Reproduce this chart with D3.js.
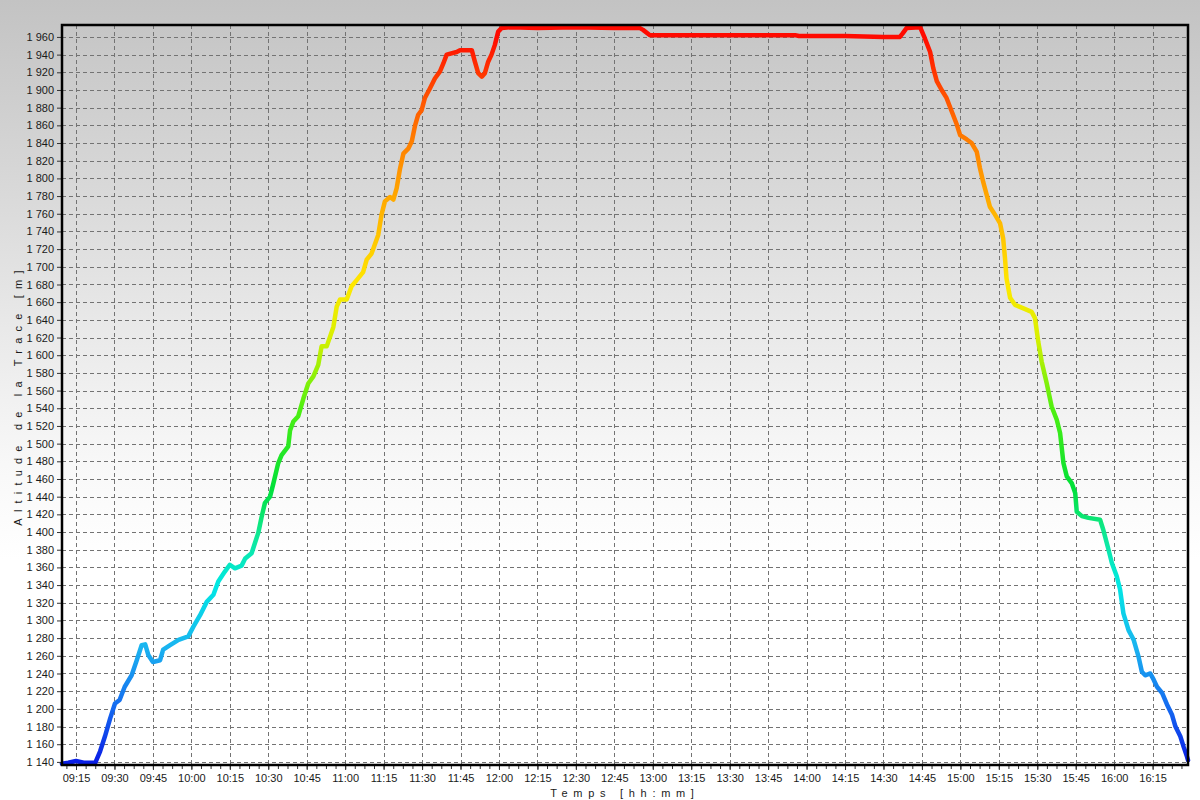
<!DOCTYPE html>
<html>
<head>
<meta charset="utf-8">
<script src="https://cdn.jsdelivr.net/npm/d3@7"></script>
<style>
  body { margin: 0; background: #fff; }
  svg { display: block; font-family: "Liberation Sans", Arial, sans-serif; }
</style>
</head>
<body>
<div id="chart"></div>
<script>
// altitude profile
let times = ["09:09:30", "09:12:00", "09:15:00", "09:18:00", "09:22:30", "09:24:24", "09:26:18", "09:28:18",
    "09:30:12", "09:32:00", "09:34:00", "09:36:42", "09:38:42", "09:40:36", "09:42:00", "09:43:12", "09:45:00",
    "09:47:48", "09:49:00", "09:51:42", "09:55:00", "09:58:48", "10:00:48", "10:03:24", "10:06:00", "10:08:36",
    "10:10:30", "10:13:00", "10:15:00", "10:17:00", "10:19:36", "10:21:00", "10:23:30", "10:26:06", "10:27:24",
    "10:28:42", "10:30:42", "10:32:00", "10:33:54", "10:35:12", "10:37:48", "10:38:30", "10:39:48", "10:41:42",
    "10:43:42", "10:45:36", "10:47:36", "10:49:30", "10:50:48", "10:52:48", "10:55:24", "10:56:42", "10:58:00",
    "11:00:36", "11:02:30", "11:04:30", "11:07:00", "11:08:24", "11:10:18", "11:12:54", "11:14:12", "11:15:30",
    "11:17:30", "11:18:48", "11:20:06", "11:21:24", "11:22:42", "11:24:42", "11:26:00", "11:27:12", "11:28:30",
    "11:29:48", "11:31:06", "11:33:06", "11:35:00", "11:37:00", "11:38:18", "11:39:36", "11:43:30", "11:44:48",
    "11:49:24", "11:50:36", "11:51:54", "11:53:18", "11:54:30", "11:55:48", "11:57:06", "11:58:24", "11:59:42",
    "12:01:00", "12:05:00", "12:15:00", "12:30:00", "12:45:00", "12:55:00", "12:56:12", "12:58:54", "13:15:00",
    "13:45:00", "13:55:30", "13:57:00", "14:15:00", "14:30:00", "14:36:24", "14:37:30", "14:39:00", "14:44:18",
    "14:46:12", "14:48:12", "14:49:24", "14:50:48", "14:52:42", "14:54:36", "14:56:36", "14:58:36", "14:59:54",
    "15:02:30", "15:04:24", "15:06:24", "15:07:36", "15:08:54", "15:10:18", "15:11:30", "15:13:30", "15:15:30",
    "15:16:42", "15:17:24", "15:18:00", "15:19:24", "15:21:18", "15:24:36", "15:27:48", "15:29:06", "15:30:24",
    "15:31:42", "15:33:42", "15:35:36", "15:37:36", "15:38:54", "15:40:12", "15:41:30", "15:43:30", "15:44:48",
    "15:45:24", "15:47:24", "15:50:00", "15:54:30", "15:55:48", "15:57:48", "15:59:06", "16:01:00", "16:02:18",
    "16:03:36", "16:05:36", "16:07:36", "16:09:30", "16:10:48", "16:12:06", "16:14:06", "16:15:24", "16:16:42",
    "16:18:42", "16:20:36", "16:22:36", "16:23:54", "16:25:48", "16:27:06", "16:28:24", "16:28:48"];

let altitudes = [1138, 1139, 1141, 1139, 1139, 1152, 1169, 1189,
    1206, 1210, 1225, 1238, 1255, 1272, 1273, 1261, 1253,
    1255, 1267, 1272, 1278, 1282, 1293, 1306, 1321, 1329,
    1344, 1355, 1363, 1359, 1362, 1370, 1376, 1399, 1417,
    1433, 1440, 1455, 1478, 1487, 1497, 1515, 1525, 1531,
    1551, 1568, 1576, 1589, 1610, 1610, 1632, 1655, 1663,
    1663, 1678, 1685, 1694, 1708, 1715, 1736, 1759, 1774,
    1779, 1776, 1789, 1811, 1828, 1834, 1842, 1859, 1872,
    1877, 1891, 1902, 1913, 1921, 1930, 1940, 1943, 1945,
    1945, 1932, 1919, 1915, 1919, 1932, 1940, 1951, 1966,
    1970, 1971, 1970, 1971, 1970, 1970, 1968, 1962, 1962,
    1962, 1962, 1961, 1961, 1960, 1960, 1964, 1970, 1971,
    1958, 1943, 1925, 1910, 1900, 1891, 1876, 1861, 1849,
    1844, 1840, 1830, 1812, 1796, 1781, 1768, 1759, 1749,
    1732, 1710, 1687, 1665, 1657, 1653, 1649, 1642, 1615,
    1593, 1568, 1542, 1527, 1512, 1478, 1463, 1455, 1444,
    1423, 1418, 1416, 1414, 1402, 1380, 1365, 1350, 1335,
    1308, 1289, 1278, 1259, 1242, 1238, 1240, 1233, 1225,
    1218, 1205, 1193, 1180, 1169, 1157, 1146, 1142];

let timeRange = ["09:09:32", "16:28:48"];
let altRange = [1136.5, 1973.5];
let yTicks = d3.range(1140, 1961, 20);

// jet-like colours along the altitude
let colorAlts = [1140, 1200, 1270, 1340, 1400, 1450, 1540, 1620, 1680, 1760, 1840, 1900, 1960];
let colorHex = ["#0a1ee6", "#1468f0", "#1ab4f0", "#00e8e4", "#10e890", "#00e038", "#50f010", "#d8f000",
    "#ffe800", "#ffb400", "#ff8000", "#ff4a00", "#ff0a00"];

let parseT = d3.timeParse("%H:%M:%S");
let data = times.map((t, i) => ({ t: parseT(t), alt: altitudes[i] }));

let W = 1200, H = 800;
let margin = { top: 25, right: 12, bottom: 35, left: 62 };

let svg = d3.select("#chart").append("svg")
    .attr("width", W)
    .attr("height", H);

let defs = svg.append("defs");
let bg = defs.append("linearGradient")
    .attr("id", "bg")
    .attr("x1", 0).attr("y1", 0).attr("x2", 0).attr("y2", 1);
bg.append("stop").attr("offset", "0%").attr("stop-color", "#c3c3c3");
bg.append("stop").attr("offset", "20%").attr("stop-color", "#d5d5d5");
bg.append("stop").attr("offset", "40%").attr("stop-color", "#e8e8e8");
bg.append("stop").attr("offset", "58%").attr("stop-color", "#f8f8f8");
bg.append("stop").attr("offset", "70%").attr("stop-color", "#ffffff");
bg.append("stop").attr("offset", "100%").attr("stop-color", "#ffffff");

svg.append("rect")
    .attr("width", W)
    .attr("height", H)
    .attr("fill", "url(#bg)");

var x = d3.scaleTime()
    .domain(timeRange.map(parseT))
    .range([margin.left, W - margin.right]);

var y = d3.scaleLinear()
    .domain(altRange)
    .range([H - margin.bottom, margin.top]);

let lg = defs.append("linearGradient")
    .attr("id", "altColor")
    .attr("gradientUnits", "userSpaceOnUse")
    .attr("x1", 0).attr("x2", 0)
    .attr("y1", y(colorAlts[0]))
    .attr("y2", y(colorAlts[colorAlts.length - 1]));
colorAlts.forEach((a, i) => {
    lg.append("stop")
        .attr("offset", (a - colorAlts[0]) / (colorAlts[colorAlts.length - 1] - colorAlts[0]))
        .attr("stop-color", colorHex[i]);
});

// grid
let majorTicks = d3.timeMinute.every(15).range(x.domain()[0], x.domain()[1]);
let first = parseT("09:15:00");
let minorTicks = d3.range(-2, 120)
    .map(i => new Date(first.getTime() + i * 225000))
    .filter(d => d > x.domain()[0] && d < x.domain()[1]);

let grid = svg.append("g")
    .attr("stroke", "#737373")
    .attr("stroke-width", 1)
    .attr("stroke-dasharray", "4,3")
    .attr("shape-rendering", "crispEdges");

grid.selectAll("line.h")
    .data(yTicks)
    .join("line")
    .attr("class", "h")
    .attr("x1", margin.left)
    .attr("x2", W - margin.right)
    .attr("y1", d => Math.round(y(d)) + 0.5)
    .attr("y2", d => Math.round(y(d)) + 0.5);

grid.selectAll("line.v")
    .data(majorTicks)
    .join("line")
    .attr("class", "v")
    .attr("y1", margin.top)
    .attr("y2", H - margin.bottom)
    .attr("x1", d => Math.round(x(d)) + 0.5)
    .attr("x2", d => Math.round(x(d)) + 0.5);

// profile
let line = d3.line()
    .x(d => x(d.t))
    .y(d => y(d.alt));

svg.append("path")
    .datum(data)
    .attr("fill", "none")
    .attr("stroke", "url(#altColor)")
    .attr("stroke-width", 4.5)
    .attr("stroke-linejoin", "round")
    .attr("stroke-linecap", "round")
    .attr("d", line);

// axes
let loc = d3.formatLocale({ decimal: ",", thousands: " ", grouping: [3], currency: ["", ""] });
let fmtAlt = loc.format(",d");

let yAxis = g => g
    .attr("transform", `translate(${margin.left},0)`)
    .call(d3.axisLeft(y).tickValues(yTicks).tickFormat(fmtAlt).tickSize(5).tickPadding(3))
    .call(g => g.select(".domain").remove());

let xAxis = g => g
    .attr("transform", `translate(0,${H - margin.bottom})`)
    .call(d3.axisBottom(x).tickValues(majorTicks).tickFormat(d3.timeFormat("%H:%M")).tickSize(5).tickPadding(4))
    .call(g => g.select(".domain").remove());

let minorAxis = g => g
    .attr("transform", `translate(0,${H - margin.bottom})`)
    .call(d3.axisBottom(x).tickValues(minorTicks).tickFormat("").tickSize(4))
    .call(g => g.select(".domain").remove());

svg.append("g").call(minorAxis);
svg.append("g").call(yAxis);
svg.append("g").call(xAxis);

svg.selectAll(".tick text")
    .attr("font-family", "'Liberation Sans', Arial, sans-serif")
    .attr("font-size", 11)
    .attr("fill", "#1a1a1a");
svg.selectAll(".tick line").attr("stroke", "#333");

// frame
svg.append("rect")
    .attr("x", margin.left)
    .attr("y", margin.top)
    .attr("width", W - margin.left - margin.right)
    .attr("height", H - margin.top - margin.bottom)
    .attr("fill", "none")
    .attr("stroke", "#000")
    .attr("stroke-width", 2.5);

// axis titles
svg.append("text")
    .attr("x", (margin.left + W - margin.right) / 2)
    .attr("y", 797)
    .attr("text-anchor", "middle")
    .attr("font-size", 11)
    .attr("letter-spacing", "5.7px")
    .attr("fill", "#1a1a1a")
    .text("Temps [hh:mm]");

svg.append("text")
    .attr("transform", `translate(22,${(margin.top + H - margin.bottom) / 2}) rotate(-90)`)
    .attr("text-anchor", "middle")
    .attr("font-size", 11)
    .attr("letter-spacing", "6.2px")
    .attr("fill", "#1a1a1a")
    .text("Altitude de la Trace [m]");
</script>
</body>
</html>
